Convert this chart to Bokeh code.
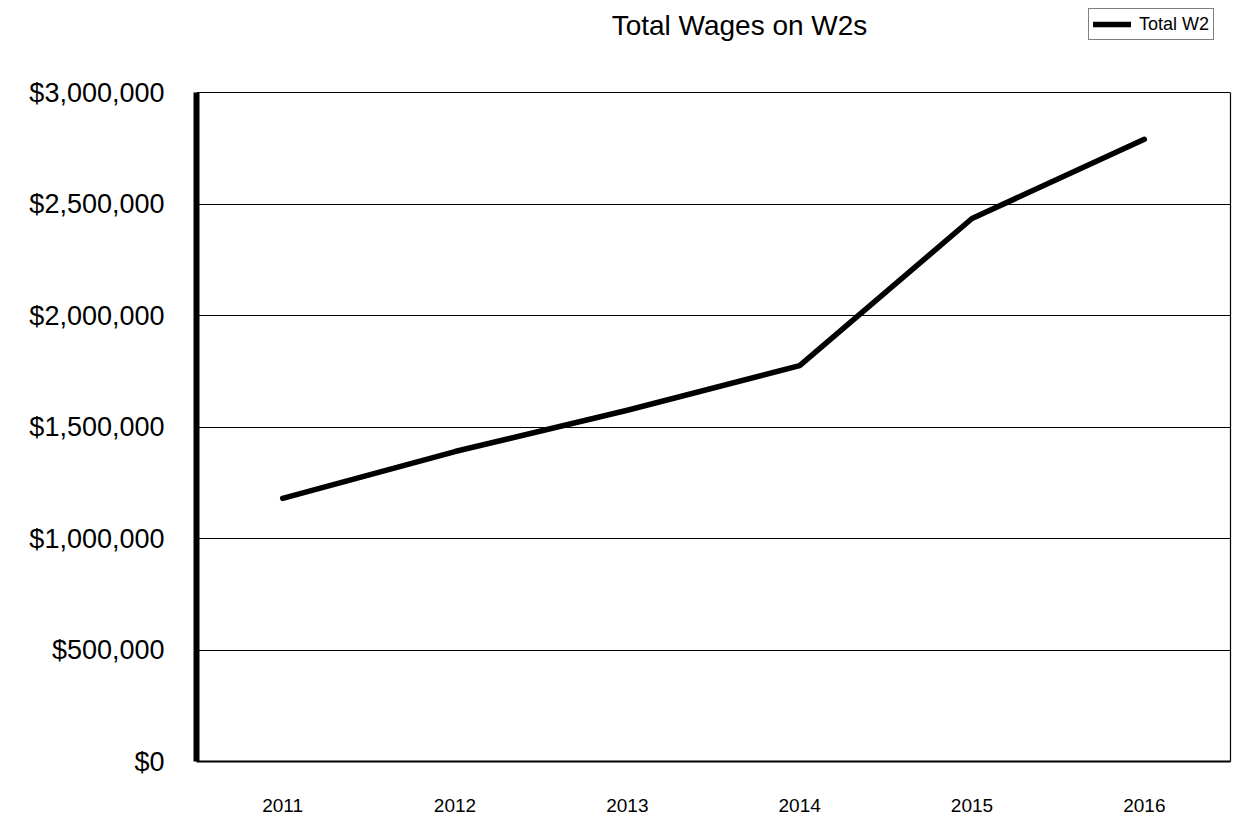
from bokeh.plotting import figure
from bokeh.models import (Range1d, NumeralTickFormatter, Legend, LegendItem,
                          FixedTicker, Label, LinearAxis)
from bokeh.embed import file_html
from bokeh.resources import INLINE

years = ["2011", "2012", "2013", "2014", "2015", "2016"]
total_w2 = [1180000, 1390000, 1575000, 1775000, 2435000, 2790000]
y_ticks = [0, 500000, 1000000, 1500000, 2000000, 2500000, 3000000]
title_text = "Total Wages on W2s"
series_name = "Total W2"

FONT = "Liberation Sans"

W, H = 1236, 817
LEFT, RIGHT, BOTTOM = 196, 6, 56
PLOT_TOP = 92                      # pixel row of the $3,000,000 line
FRAME_H = H - BOTTOM               # frame reaches the top of the canvas
Y_MAX = 3000000
y_end = Y_MAX * FRAME_H / (FRAME_H - PLOT_TOP)

x_pos = [i + 0.5 for i in range(len(years))]

p = figure(width=W, height=H, output_backend="svg", toolbar_location=None,
           x_range=Range1d(0, len(years)), y_range=Range1d(0, y_end),
           min_border_left=LEFT, min_border_right=RIGHT, min_border_top=0,
           min_border_bottom=BOTTOM)

p.background_fill_color = "white"
p.border_fill_color = "white"
p.outline_line_color = None

r = p.line(x_pos, total_w2, line_color="black", line_width=5.5, line_cap="round",
           line_join="round")

p.xgrid.grid_line_color = None
p.ygrid.grid_line_color = "black"
p.ygrid.grid_line_width = 1.2
p.ygrid.ticker = FixedTicker(ticks=y_ticks)

p.yaxis.ticker = FixedTicker(ticks=y_ticks)
p.yaxis.bounds = (0, Y_MAX)
p.yaxis.formatter = NumeralTickFormatter(format="$0,0")
p.yaxis.axis_line_width = 6
p.yaxis.axis_line_color = "black"
p.yaxis.major_tick_line_color = None
p.yaxis.minor_tick_line_color = None
p.yaxis.major_label_text_font = FONT
p.yaxis.major_label_text_font_size = "27px"
p.yaxis.major_label_text_color = "black"
p.yaxis.major_label_standoff = 26

right_axis = LinearAxis(bounds=(0, Y_MAX), ticker=FixedTicker(ticks=[]),
                        axis_line_width=1.2, axis_line_color="black",
                        major_tick_line_color=None, minor_tick_line_color=None,
                        major_label_text_font_size="0px", major_label_standoff=0)
p.add_layout(right_axis, "right")

p.xaxis.ticker = FixedTicker(ticks=x_pos)
p.xaxis.major_label_overrides = {x: y for x, y in zip(x_pos, years)}
p.xaxis.axis_line_width = 1.8
p.xaxis.axis_line_color = "black"
p.xaxis.major_tick_line_color = None
p.xaxis.minor_tick_line_color = None
p.xaxis.major_label_text_font = FONT
p.xaxis.major_label_text_font_size = "19px"
p.xaxis.major_label_text_color = "black"
p.xaxis.major_label_standoff = 31

title = Label(x=739 - LEFT, y=FRAME_H - 25, x_units="screen", y_units="screen",
              text=title_text, text_font=FONT, text_font_size="28px",
              text_align="center", text_baseline="alphabetic", text_color="black")
p.add_layout(title)

legend = Legend(items=[LegendItem(label=series_name, renderers=[r])],
                location=(1088 - LEFT, FRAME_H - 40),
                label_text_font=FONT, label_text_font_size="18px",
                label_text_color="black",
                border_line_color="black", border_line_width=1.5,
                padding=4, margin=0, spacing=0,
                glyph_width=38, glyph_height=22, label_standoff=8,
                label_height=22, background_fill_alpha=1)
p.add_layout(legend, "center")

open("out.html", "w").write(file_html(p, INLINE))
